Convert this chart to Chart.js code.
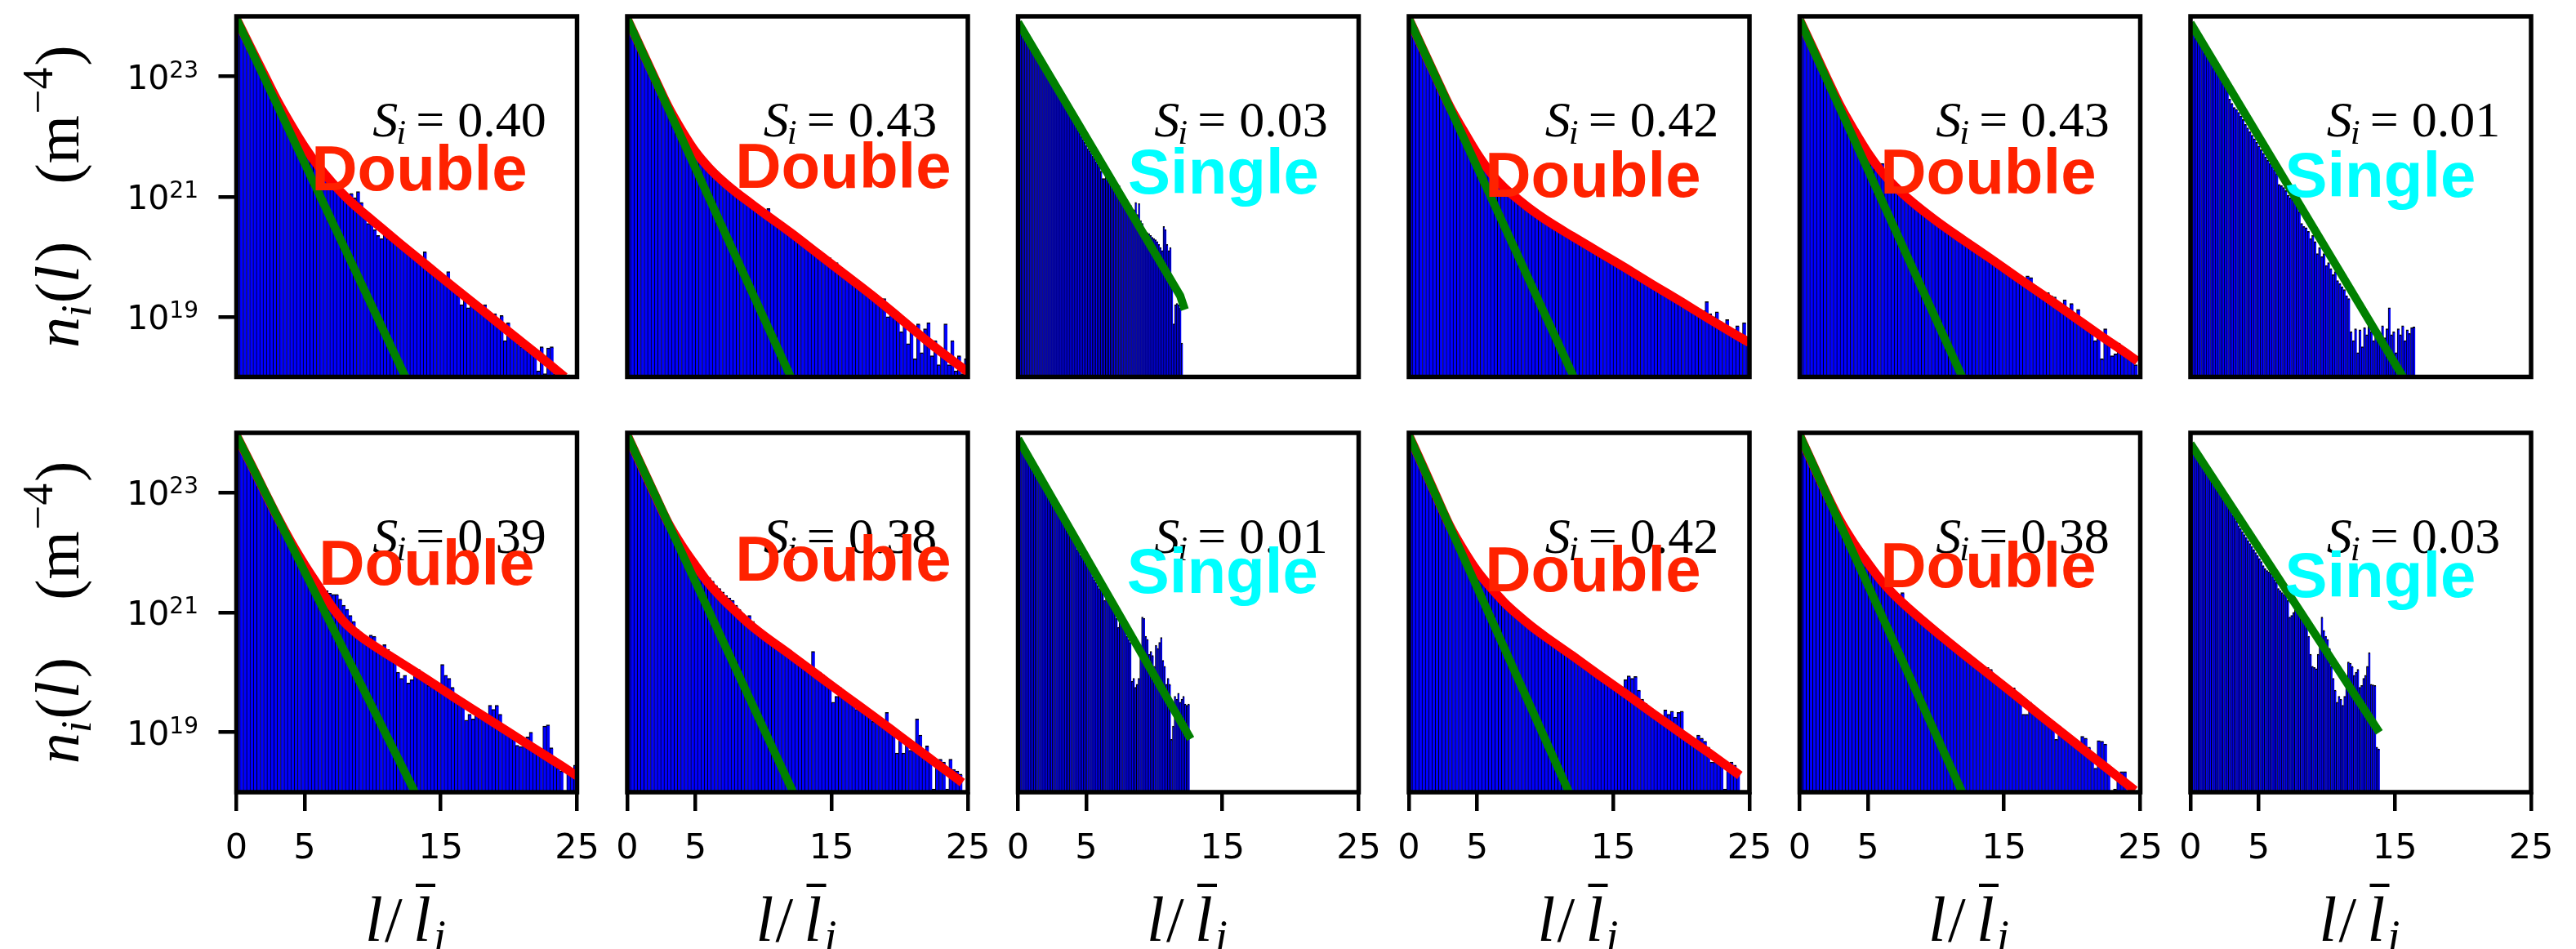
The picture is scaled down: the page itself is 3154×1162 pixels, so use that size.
<!DOCTYPE html>
<html>
<head>
<meta charset="utf-8">
<title>Length distributions n_i(l)</title>
<script src="https://cdn.jsdelivr.net/npm/chart.js@4.4.1/dist/chart.umd.min.js"></script>
<style>
    html, body { margin: 0; padding: 0; background: #ffffff; }
    #page { position: relative; width: 3154px; height: 1162px; overflow: hidden; background: #ffffff; }
</style>
</head>
<body>
<div id="page"></div>
<script>
// Histogram heights, log10 of n_i(l) in m^-4, one value per bin
const binsP1 = [23.78,23.68,23.57,23.46,23.36,23.25,23.14,23.03,22.93,22.82,22.72,22.62,22.52,22.42,22.32,22.24,22.15,22.07,21.98,21.9,21.82,21.75,21.68,21.6,21.52,21.46,21.42,21.3,21.22,21.16,21.1,21.05,21.02,21.0,21.05,20.98,21.08,20.9,20.75,20.55,20.6,20.45,20.35,20.3,20.38,20.3,20.35,20.25,20.2,20.15,20.1,20.05,20.0,19.95,19.92,19.95,20.08,19.8,19.75,19.7,19.65,19.62,19.58,19.75,19.5,19.42,19.35,19.2,19.3,19.15,19.22,19.18,19.12,19.1,19.2,19.0,18.92,19.05,18.85,19.02,18.6,18.9,18.7,18.72,18.55,18.5,18.48,18.42,18.4,18.45,18.1,18.5,18.05,18.48,18.5,18.05,18.1,18.03,18.02,18.03];
const binsP2 = [23.8,23.68,23.56,23.44,23.32,23.2,23.08,22.96,22.85,22.73,22.62,22.5,22.4,22.3,22.2,22.1,22.02,21.95,21.9,21.82,21.72,21.64,21.6,21.52,21.45,21.42,21.36,21.3,21.25,21.2,21.15,21.1,21.04,21.0,20.96,20.9,20.88,20.82,20.78,20.74,20.7,20.8,20.6,20.56,20.52,20.48,20.45,20.4,20.36,20.3,20.26,20.22,20.18,20.14,20.1,20.05,20.0,19.96,19.92,19.98,19.84,19.9,19.74,19.7,19.72,19.6,19.63,19.5,19.45,19.42,19.4,19.33,19.3,19.25,19.3,19.3,19.0,19.12,19.1,18.95,18.75,18.9,18.55,18.85,18.3,18.88,18.4,18.8,18.9,18.35,18.6,18.2,18.4,18.88,18.2,18.6,18.1,18.35,18.05,18.3];
const binsP3 = [23.82,23.77,23.72,23.68,23.63,23.58,23.53,23.49,23.44,23.4,23.35,23.3,23.26,23.21,23.16,23.12,23.07,23.03,22.98,22.93,22.89,22.84,22.8,22.75,22.7,22.62,22.58,22.55,22.5,22.45,22.41,22.36,22.3,22.26,22.2,22.15,22.1,22.05,22.0,21.95,21.9,21.85,21.8,21.76,21.72,21.67,21.63,21.58,21.54,21.5,21.42,21.3,21.3,21.32,21.3,21.28,21.26,21.25,21.22,21.2,21.2,21.18,21.1,21.05,20.98,20.95,20.9,20.8,20.85,20.75,20.78,20.9,20.7,20.88,20.6,20.55,20.42,20.42,20.4,20.38,20.35,20.32,20.3,20.28,20.25,20.2,20.15,20.1,20.5,20.45,20.2,20.1,20.15,19.5,18.88,19.2,19.22,19.2,19.15,18.56];
const binsP4 = [23.8,23.68,23.56,23.44,23.32,23.2,23.08,22.96,22.84,22.72,22.6,22.48,22.38,22.28,22.18,22.08,21.99,21.9,21.82,21.74,21.66,21.6,21.52,21.45,21.37,21.31,21.25,21.19,21.13,21.08,21.04,21.0,20.96,20.92,20.9,20.84,20.8,20.76,20.72,20.68,20.64,20.6,20.57,20.53,20.5,20.46,20.43,20.39,20.3,20.28,20.29,20.26,20.22,20.19,20.16,20.12,20.0,20.06,20.03,19.99,19.96,19.88,19.9,19.86,19.82,19.8,19.7,19.68,19.7,19.66,19.62,19.58,19.55,19.52,19.48,19.38,19.42,19.38,19.35,19.32,19.28,19.25,19.22,19.18,19.15,19.12,19.1,19.25,19.05,19.0,19.08,18.92,18.85,18.95,18.8,18.75,18.85,18.7,18.9,18.65];
const binsP5 = [23.8,23.68,23.56,23.44,23.32,23.2,23.08,22.96,22.84,22.73,22.62,22.5,22.4,22.3,22.2,22.1,22.02,21.93,21.85,21.77,21.7,21.62,21.55,21.5,21.55,21.36,21.28,21.22,21.15,21.1,21.05,21.0,20.95,20.9,20.86,20.82,20.78,20.74,20.7,20.66,20.62,20.58,20.54,20.5,20.46,20.42,20.38,20.34,20.22,20.2,20.22,20.18,20.14,20.1,20.06,19.95,19.98,19.93,19.9,19.86,19.82,19.78,19.74,19.7,19.66,19.62,19.6,19.68,19.65,19.5,19.47,19.42,19.38,19.4,19.35,19.33,19.25,19.2,19.28,19.1,19.22,19.05,19.12,18.95,18.9,18.85,18.82,18.6,18.75,18.3,18.8,18.6,18.35,18.38,18.56,18.42,18.43,18.42,18.3,18.2];
const binsP6 = [23.86,23.78,23.72,23.65,23.59,23.53,23.47,23.4,23.34,23.28,23.22,23.16,23.09,23.02,22.96,22.88,22.8,22.62,22.55,22.48,22.45,22.4,22.34,22.28,22.2,22.14,22.08,22.02,21.96,21.9,21.84,21.78,21.72,21.66,21.6,21.55,21.5,21.44,21.38,21.2,21.18,21.15,21.1,21.02,20.98,20.95,20.9,20.85,20.75,20.55,20.5,20.48,20.42,20.3,20.35,20.25,20.05,20.15,20.0,20.05,19.85,19.9,19.8,19.7,19.75,19.6,19.55,19.5,19.45,19.35,19.3,18.75,18.6,18.8,18.4,18.78,18.5,18.82,18.7,18.85,18.75,18.6,18.8,18.72,18.7,18.85,18.65,18.8,19.15,18.7,18.75,18.4,18.8,18.7,18.85,18.6,18.78,18.72,18.82,18.83];
const binsP7 = [23.82,23.71,23.6,23.49,23.38,23.26,23.15,23.04,22.93,22.82,22.71,22.6,22.5,22.39,22.28,22.18,22.06,21.98,21.9,21.82,21.74,21.66,21.58,21.5,21.44,21.4,21.36,21.32,21.3,21.3,21.22,21.12,21.05,20.95,20.85,20.72,20.66,20.6,20.56,20.62,20.6,20.45,20.42,20.46,20.38,20.33,20.28,20.0,19.9,19.95,19.82,19.88,19.95,20.05,19.95,19.9,19.78,19.85,19.75,19.82,20.13,19.95,19.9,19.75,19.62,19.58,19.55,19.2,19.3,19.22,19.35,19.3,19.28,19.3,19.45,19.38,19.45,19.3,19.05,19.02,18.98,18.95,18.78,18.76,18.8,18.92,19.0,18.75,18.7,18.68,19.1,19.12,18.74,18.45,18.4,18.35,18.0,18.38,18.34,18.45];
const binsP8 = [23.8,23.68,23.56,23.44,23.32,23.2,23.08,22.96,22.84,22.72,22.6,22.48,22.38,22.29,22.2,22.12,22.04,21.96,21.88,21.8,21.74,21.68,21.64,21.62,21.58,21.52,21.45,21.4,21.34,21.28,21.24,21.2,21.12,21.05,20.98,20.9,20.95,20.85,20.75,20.7,20.65,20.6,20.58,20.45,20.5,20.48,20.42,20.3,20.32,20.22,20.2,20.22,20.15,20.12,20.1,20.35,20.0,20.0,19.96,19.9,19.85,19.5,19.6,19.75,19.58,19.55,19.6,19.52,19.38,19.48,19.42,19.38,19.3,19.18,19.2,19.12,19.1,19.33,19.05,18.98,18.65,18.9,18.65,18.85,18.7,18.75,19.22,18.95,18.6,18.77,18.6,18.05,18.45,18.55,18.5,18.05,18.55,18.38,18.35,18.3];
const binsP9 = [23.85,23.8,23.75,23.7,23.65,23.6,23.55,23.5,23.45,23.4,23.35,23.3,23.25,23.2,23.15,23.1,23.05,23.0,22.95,22.9,22.85,22.8,22.75,22.7,22.65,22.6,22.55,22.5,22.45,22.4,22.35,22.3,22.25,22.18,22.05,22.08,21.95,22.0,21.95,21.9,21.85,21.8,21.7,21.6,21.55,21.5,21.45,21.4,21.38,21.35,21.2,21.25,21.22,21.18,21.12,21.08,21.0,20.9,20.75,20.85,20.8,20.75,20.7,20.6,20.55,20.5,19.85,19.9,19.75,19.8,19.9,20.3,20.92,20.9,20.6,20.55,20.3,20.35,20.28,20.1,20.45,20.4,20.5,20.58,20.2,20.1,19.8,19.9,19.8,18.88,19.1,19.6,19.55,19.65,19.5,19.55,19.6,19.47,19.45,19.47];
const binsP10 = [23.8,23.68,23.56,23.44,23.32,23.2,23.08,22.96,22.84,22.72,22.6,22.48,22.37,22.27,22.17,22.08,21.99,21.91,21.83,21.75,21.68,21.61,21.55,21.49,21.43,21.37,21.31,21.25,21.19,21.14,21.09,21.04,21.0,20.95,20.85,20.86,20.82,20.77,20.72,20.68,20.64,20.6,20.48,20.52,20.48,20.38,20.35,20.37,20.32,20.28,20.24,20.2,20.16,20.12,20.08,20.04,20.0,19.96,19.92,19.88,19.84,19.8,19.76,19.72,19.7,19.88,19.94,19.9,19.93,19.7,19.55,19.48,19.42,19.36,19.3,19.25,19.22,19.37,19.3,19.35,19.25,19.33,19.35,19.0,18.95,18.92,18.8,18.95,18.9,18.85,18.75,18.5,18.5,18.55,18.5,18.05,18.42,18.5,18.45,18.3];
const binsP11 = [23.8,23.68,23.56,23.44,23.32,23.2,23.08,22.96,22.85,22.74,22.63,22.53,22.45,22.37,22.3,22.22,22.17,22.12,22.02,21.94,21.86,21.8,21.74,21.67,21.6,21.52,21.46,21.4,21.34,21.3,21.3,21.33,21.15,21.08,21.04,21.0,20.96,20.92,20.88,20.82,20.76,20.7,20.66,20.52,20.58,20.54,20.48,20.44,20.4,20.36,20.25,20.26,20.22,20.18,20.14,20.1,20.06,20.08,20.05,19.92,19.88,19.84,19.8,19.76,19.74,19.74,19.6,19.55,19.3,19.3,19.5,19.45,19.32,19.3,19.28,19.25,19.15,19.1,18.88,19.1,19.0,18.98,18.92,18.88,18.85,18.8,18.93,18.9,18.75,18.6,18.4,18.86,18.85,18.8,18.45,18.02,18.05,18.2,18.34,18.34];
const binsP12 = [23.84,23.78,23.72,23.66,23.6,23.55,23.5,23.45,23.4,23.36,23.31,23.26,23.21,23.16,23.11,23.06,22.95,22.9,22.86,22.8,22.75,22.7,22.62,22.6,22.52,22.45,22.4,22.35,22.3,22.25,22.2,22.15,22.1,22.05,22.0,21.95,21.9,21.85,21.78,21.73,21.7,21.68,21.65,21.6,21.55,21.5,21.4,21.36,21.33,21.3,21.28,21.2,20.92,20.95,21.0,21.05,21.1,21.08,21.0,20.95,20.9,20.85,20.6,20.3,20.1,20.08,20.06,20.3,20.5,20.92,20.7,20.6,20.55,20.4,20.1,19.9,19.7,19.5,19.6,19.55,19.45,19.6,19.9,20.17,20.15,20.1,19.95,20.0,20.05,19.75,19.78,19.9,19.95,20.1,20.33,19.8,19.79,19.78,18.75,18.72];
const allBins = [binsP1, binsP2, binsP3, binsP4, binsP5, binsP6, binsP7, binsP8, binsP9, binsP10, binsP11, binsP12];

// upper end of the histogram range (l / mean l) in each panel
const xMax = [24.5, 25.0, 12.1, 25.0, 24.8, 16.5, 25.0, 24.6, 12.6, 24.3, 24.0, 13.9];

// single-exponential fit (green), points as [l/l_i, log10 n]
const greenFit = [
    [[0, 23.96], [12.4, 18.0]],
    [[0, 23.96], [12.0, 18.0]],
    [[0, 23.9], [11.9, 19.35], [12.24, 19.12]],
    [[0, 23.96], [12.1, 18.0]],
    [[0, 23.94], [11.93, 18.0]],
    [[0, 23.89], [15.6, 18.0]],
    [[0, 23.96], [13.1, 18.0]],
    [[0, 23.96], [12.18, 18.0]],
    [[0, 23.9], [12.67, 18.89]],
    [[0, 23.96], [11.75, 18.0]],
    [[0, 23.96], [11.93, 18.0]],
    [[0, 23.82], [13.86, 19.0]]
];

// double-exponential fit (red), only where the panel is classed "Double"
const redFit = [
    [[0,23.96],[1,23.5],[2,23.05],[3,22.6],[4,22.2],[5,21.83],[6,21.51],[7,21.24],[8,21.0],[9,20.79],[10,20.6],[12,20.22],[14,19.85],[16,19.48],[18,19.12],[20,18.75],[22,18.39],[24.1,18.0]],
    [[0,23.96],[1,23.47],[2,22.98],[3,22.5],[4,22.1],[5,21.75],[6,21.48],[7,21.26],[8,21.07],[9,20.9],[10,20.73],[12,20.4],[14,20.05],[16,19.7],[18,19.35],[20,18.98],[22,18.6],[24,18.25],[25,18.08]],
    null,
    [[0,23.96],[1,23.47],[2,22.98],[3,22.5],[4,22.1],[5,21.72],[6,21.4],[7,21.15],[8,20.96],[9,20.78],[10,20.62],[12,20.34],[14,20.07],[16,19.8],[18,19.52],[20,19.25],[22,18.97],[24,18.7],[25,18.57]],
    [[0,23.94],[1,23.46],[2,22.97],[3,22.5],[4,22.1],[5,21.73],[6,21.42],[7,21.17],[8,20.96],[10,20.6],[12,20.28],[14,19.97],[16,19.65],[18,19.34],[20,19.02],[22,18.7],[24,18.39],[24.8,18.26]],
    null,
    [[0,23.96],[1,23.51],[2,23.05],[3,22.6],[4,22.18],[5,21.8],[6,21.45],[7,21.1],[8,20.82],[9,20.62],[10,20.46],[12,20.17],[14,19.88],[16,19.58],[18,19.29],[20,19.0],[22,18.71],[24,18.42],[25,18.27]],
    [[0,23.96],[1,23.47],[2,22.98],[3,22.5],[4,22.12],[5,21.79],[6,21.48],[7,21.23],[8,21.01],[9,20.8],[10,20.62],[12,20.29],[14,19.95],[16,19.61],[18,19.28],[20,18.94],[22,18.6],[24,18.26],[24.6,18.16]],
    null,
    [[0,23.96],[1,23.46],[2,22.95],[3,22.45],[4,22.05],[5,21.7],[6,21.42],[7,21.17],[8,20.96],[9,20.77],[10,20.6],[12,20.28],[14,19.95],[16,19.63],[18,19.3],[20,18.98],[22,18.66],[24,18.33],[24.3,18.28]],
    [[0,23.96],[1,23.46],[2,22.97],[3,22.52],[4,22.15],[5,21.83],[6,21.53],[7,21.28],[8,21.07],[10,20.68],[12,20.31],[14,19.95],[16,19.59],[18,19.22],[20,18.86],[22,18.5],[24,18.14],[24.6,18.03]],
    null
];

const sValues = ['0.40', '0.43', '0.03', '0.42', '0.43', '0.01', '0.39', '0.38', '0.01', '0.42', '0.38', '0.03'];
const fitKind = ['Double', 'Double', 'Single', 'Double', 'Double', 'Single', 'Double', 'Double', 'Single', 'Double', 'Double', 'Single'];

const xTickValues = [0, 5, 15, 25];
const yTickPowers = [19, 21, 23];

// where the Double/Single tag sits, in data units [x, log10 y]
const tagAt = [
    [5.86, 21.11], [8.29, 21.15], [8.24, 21.05], [5.95, 20.99], [6.28, 21.05], [7.1, 20.99],
    [6.4, 21.47], [8.29, 21.53], [8.17, 21.33], [5.95, 21.36], [6.28, 21.42], [7.1, 21.26]
];

// page layout (frame edges in px)
const colLeft = [289.5, 768, 1246.5, 1725, 2203.5, 2682];
const frameW = 417;
const rowTop = [20, 530];
const rowH = [441.5, 440];

const page = document.getElementById('page');

function pow10(v) { return Math.pow(10, v); }

// draw a run of text pieces left to right
function drawPieces(ctx, pieces, x0, y0) {
    let x = x0;
    pieces.forEach(p => {
        ctx.font = p.font;
        ctx.fillText(p.t, x, y0 + (p.dy || 0));
        x += ctx.measureText(p.t).width + (p.kern || 0);
    });
    return x - x0;
}

function piecesWidth(ctx, pieces) {
    let w = 0;
    pieces.forEach(p => {
        ctx.font = p.font;
        w += ctx.measureText(p.t).width + (p.kern || 0);
    });
    return w;
}

function drawPanelText(chart, i) {
    const ctx = chart.ctx;
    const xs = chart.scales.x, ys = chart.scales.y;
    const bx = xs.getPixelForValue(10), by = ys.getPixelForValue(1e22);
    ctx.save();
    ctx.textAlign = 'left';
    ctx.textBaseline = 'alphabetic';
    ctx.fillStyle = '#000';
    ctx.font = 'italic 62px "Liberation Serif"';
    ctx.fillText('S', bx, by);
    ctx.font = 'italic 43px "Liberation Serif"';
    ctx.fillText('i', bx + 29, by + 9);
    ctx.font = '62px "Liberation Serif"';
    ctx.fillText('=', bx + 53, by);
    ctx.fillText(sValues[i], bx + 104, by);

    const kind = fitKind[i];
    ctx.font = 'bold 78px "Liberation Sans"';
    ctx.fillStyle = kind === 'Double' ? '#ff2200' : '#00ffff';
    const tx = xs.getPixelForValue(tagAt[i][0]) - (kind === 'Double' ? 6 : 3);
    const ty = ys.getPixelForValue(pow10(tagAt[i][1]));
    ctx.fillText(kind, tx, ty);
    ctx.restore();
}

function drawFrame(chart) {
    const ctx = chart.ctx, a = chart.chartArea;
    ctx.save();
    ctx.lineWidth = 5.5;
    ctx.strokeStyle = '#000';
    ctx.strokeRect(a.left, a.top, a.right - a.left, a.bottom - a.top);
    ctx.restore();
}

function drawYAxisText(chart, pageLeft) {
    const ctx = chart.ctx, ys = chart.scales.y, a = chart.chartArea;
    const right = 243 - pageLeft;
    ctx.save();
    ctx.fillStyle = '#000';
    ctx.textAlign = 'left';
    ctx.textBaseline = 'alphabetic';
    yTickPowers.forEach(p => {
        const y = ys.getPixelForValue(pow10(p));
        ctx.font = '28px "DejaVu Sans"';
        const ws = ctx.measureText(String(p)).width;
        ctx.font = '41px "DejaVu Sans"';
        const wb = ctx.measureText('10').width;
        ctx.fillText('10', right - ws - wb, y + 15);
        ctx.font = '28px "DejaVu Sans"';
        ctx.fillText(String(p), right - ws, y + 1);
    });

    // n_i(l)  (m^-4), rotated
    const F = 76;
    const it = 'italic ' + F + 'px "Liberation Serif"';
    const rm = F + 'px "Liberation Serif"';
    const pieces = [
        {t: 'n', font: it},
        {t: 'i', font: 'italic ' + Math.round(F * 0.7) + 'px "Liberation Serif"', dy: F * 0.2, kern: 2},
        {t: '(', font: rm},
        {t: 'l', font: it, kern: 4},
        {t: ')', font: rm},
        {t: '\u2002\u2002', font: rm, kern: -6},
        {t: '(', font: rm},
        {t: 'm', font: rm, kern: 2},
        {t: '\u22124', font: Math.round(F * 0.7) + 'px "Liberation Serif"', dy: -F * 0.42, kern: 2},
        {t: ')', font: rm}
    ];
    const cy = (a.top + a.bottom) / 2;
    ctx.translate(96 - pageLeft, cy);
    ctx.rotate(-Math.PI / 2);
    const w = piecesWidth(ctx, pieces);
    drawPieces(ctx, pieces, -w / 2, 0);
    ctx.restore();
}

function drawXAxisTitle(chart, pageTop) {
    const ctx = chart.ctx, a = chart.chartArea;
    const cx = (a.left + a.right) / 2;
    const base = 1152 - pageTop;
    ctx.save();
    ctx.fillStyle = '#000';
    ctx.textAlign = 'left';
    ctx.textBaseline = 'alphabetic';
    ctx.font = 'italic 78px "Liberation Serif"';
    ctx.fillText('l', cx - 51, base);
    ctx.font = '78px "Liberation Serif"';
    ctx.fillText('/', cx - 27, base);
    ctx.font = 'italic 78px "Liberation Serif"';
    ctx.fillText('l', cx + 8, base);
    ctx.font = 'italic 54px "Liberation Serif"';
    ctx.fillText('i', cx + 33, base + 12);
    ctx.fillRect(cx + 11, base - 70, 24, 4);
    ctx.restore();
}

function makePanel(i) {
    const r = i < 6 ? 0 : 1, c = i % 6;
    const fl = colLeft[c], ft = rowTop[r], fw = frameW, fh = rowH[r];
    const mL = c === 0 ? fl : 12, mR = r === 1 ? 45 : 14, mT = 12, mB = r === 1 ? 205 : 12;
    const cl = Math.floor(fl - mL), ct = Math.floor(ft - mT);
    const cr = Math.ceil(fl + fw + mR), cb = Math.ceil(ft + fh + mB);
    const cw = cr - cl, chh = cb - ct;
    const padL = fl - cl, padT = ft - ct, padR = cr - (fl + fw), padB = cb - (ft + fh);

    const canvas = document.createElement('canvas');
    canvas.width = cw;
    canvas.height = chh;
    canvas.style.cssText = 'position:absolute;left:' + cl + 'px;top:' + ct + 'px;width:' + cw + 'px;height:' + chh + 'px;';
    page.appendChild(canvas);

    const bins = allBins[i];
    const w = xMax[i] / bins.length;
    const datasets = [{
        type: 'bar',
        data: bins.map((v, k) => ({x: (k + 0.5) * w, y: pow10(v)})),
        backgroundColor: '#0000ff',
        borderColor: '#000000',
        borderWidth: {top: 1.5, left: 1, right: 0, bottom: 0},
        barPercentage: 1,
        categoryPercentage: 1,
        grouped: false,
        inflateAmount: 0.5,
        order: 3
    }];
    if (redFit[i]) {
        datasets.push({
            type: 'line',
            data: redFit[i].map(p => ({x: p[0], y: pow10(p[1])})),
            borderColor: '#ff0000',
            borderWidth: 11,
            pointRadius: 0,
            fill: false,
            cubicInterpolationMode: 'monotone',
            borderJoinStyle: 'round',
            clip: 0,
            order: 2
        });
    }
    datasets.push({
        type: 'line',
        data: greenFit[i].map(p => ({x: p[0], y: pow10(p[1])})),
        borderColor: '#008000',
        borderWidth: 10,
        pointRadius: 0,
        fill: false,
        tension: 0,
        borderJoinStyle: 'round',
        clip: 0,
        order: 1
    });

    new Chart(canvas, {
        type: 'bar',
        data: {datasets: datasets},
        options: {
            responsive: false,
            animation: false,
            devicePixelRatio: 1,
            layout: {
                padding: {
                    left: c === 0 ? 0 : padL,
                    right: padR,
                    top: padT,
                    bottom: r === 1 ? 0 : padB
                }
            },
            plugins: {
                legend: {display: false},
                tooltip: {enabled: false}
            },
            scales: {
                x: {
                    type: 'linear',
                    min: 0,
                    max: 25,
                    offset: false,
                    display: r === 1,
                    afterBuildTicks: s => { s.ticks = xTickValues.map(v => ({value: v})); },
                    afterFit: s => {
                        if (!s.options.display) return;
                        s.height = padB;
                        s.paddingLeft = 0;
                        s.paddingRight = 0;
                    },
                    grid: {display: true, offset: false, drawOnChartArea: false, drawTicks: true, tickLength: 23, lineWidth: 4.5, color: '#000'},
                    border: {display: false},
                    ticks: {
                        color: '#000',
                        font: {family: 'DejaVu Sans', size: 43},
                        padding: 21,
                        maxRotation: 0,
                        autoSkip: false,
                        callback: v => String(v)
                    }
                },
                y: {
                    type: 'logarithmic',
                    min: 1e18,
                    max: 1e24,
                    display: c === 0,
                    afterBuildTicks: s => { s.ticks = yTickPowers.map(p => ({value: pow10(p)})); },
                    afterFit: s => {
                        if (!s.options.display) return;
                        s.width = padL;
                        s.paddingTop = 0;
                        s.paddingBottom = 0;
                    },
                    grid: {display: true, drawOnChartArea: false, drawTicks: true, tickLength: 22, lineWidth: 4.5, color: '#000'},
                    border: {display: false},
                    ticks: {display: false}
                }
            }
        },
        plugins: [{
            id: 'panelDecor' + i,
            afterDatasetsDraw(chart) {
                drawPanelText(chart, i);
                drawFrame(chart);
            },
            afterDraw(chart) {
                if (c === 0) drawYAxisText(chart, cl);
                if (r === 1) drawXAxisTitle(chart, ct);
            }
        }]
    });
}

for (let i = 0; i < 12; i++) {
    makePanel(i);
}
</script>
</body>
</html>
